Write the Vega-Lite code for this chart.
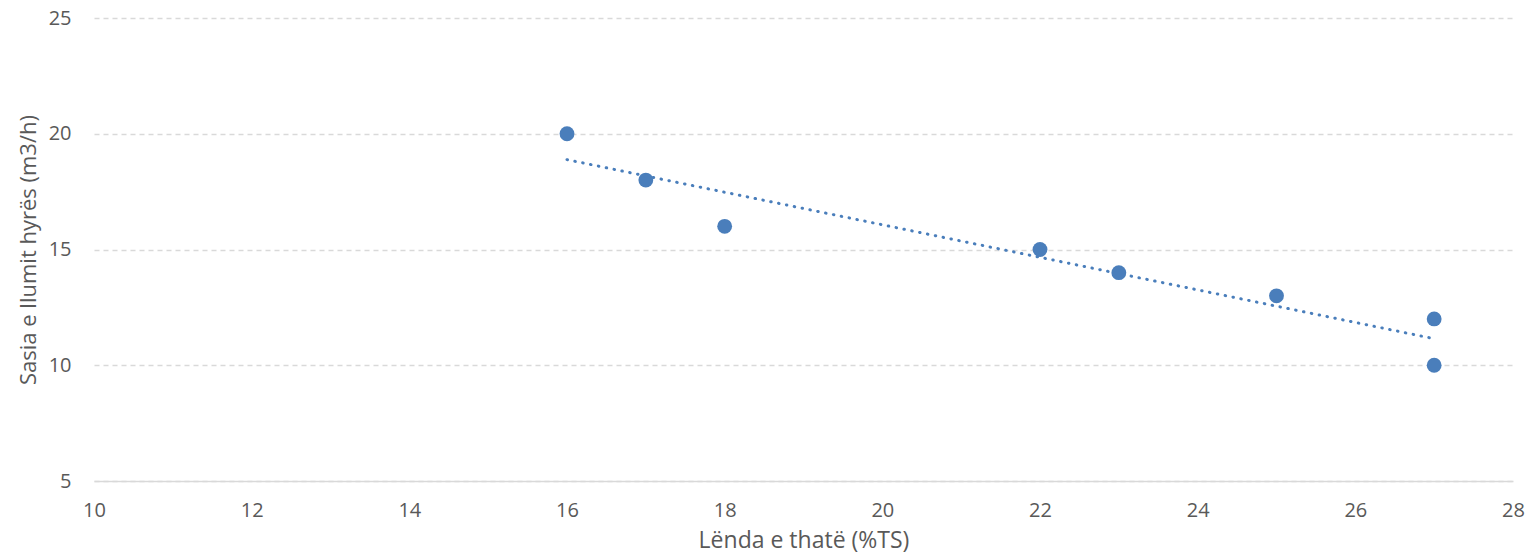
{
  "$schema": "https://vega.github.io/schema/vega-lite/v6.json",
  "autosize": "none",
  "width": 1419,
  "height": 463,
  "padding": {"left": 94, "top": 18, "right": 15, "bottom": 75},
  "background": "white",
  "config": {
    "view": {"stroke": null},
    "font": "Open Sans"
  },
  "data": {
    "values": [
      {"ts": 16, "q": 20},
      {"ts": 17, "q": 18},
      {"ts": 18, "q": 16},
      {"ts": 22, "q": 15},
      {"ts": 23, "q": 14},
      {"ts": 25, "q": 13},
      {"ts": 27, "q": 12},
      {"ts": 27, "q": 10}
    ]
  },
  "layer": [
    {
      "mark": {"type": "point", "filled": true, "size": 220, "color": "#4a7ebb", "opacity": 1},
      "encoding": {
        "x": {
          "field": "ts", "type": "quantitative",
          "scale": {"domain": [10, 28], "nice": false, "zero": false},
          "axis": {
            "title": "Lënda e thatë (%TS)",
            "values": [10, 12, 14, 16, 18, 20, 22, 24, 26, 28],
            "format": "d",
            "grid": false,
            "labelFlush": false,
            "domain": true, "domainColor": "#d9d9d9", "domainWidth": 1.5,
            "ticks": false,
            "labelFont": "Open Sans", "labelFontSize": 20, "labelColor": "#595959", "labelPadding": 19,
            "titleFont": "Open Sans", "titleFontSize": 23, "titleFontWeight": "normal", "titleColor": "#595959", "titlePadding": 9
          }
        },
        "y": {
          "field": "q", "type": "quantitative",
          "scale": {"domain": [5, 25], "nice": false, "zero": false},
          "axis": {
            "title": "Sasia e llumit hyrës (m3/h)",
            "values": [5, 10, 15, 20, 25],
            "format": "d",
            "grid": true, "gridColor": "#d9d9d9", "gridDash": [5, 4], "gridWidth": 1.3,
            "domain": false, "ticks": false,
            "labelFont": "Open Sans", "labelFontSize": 20, "labelColor": "#595959", "labelPadding": 23,
            "titleFont": "Open Sans", "titleFontSize": 22, "titleFontWeight": "normal", "titleColor": "#595959", "titlePadding": 8
          }
        }
      }
    },
    {
      "transform": [{"regression": "q", "on": "ts"}],
      "mark": {"type": "line", "color": "#4a7ebb", "strokeWidth": 3, "strokeDash": [0.5, 7.5], "strokeCap": "round"},
      "encoding": {
        "x": {"field": "ts", "type": "quantitative"},
        "y": {"field": "q", "type": "quantitative"}
      }
    }
  ]
}
